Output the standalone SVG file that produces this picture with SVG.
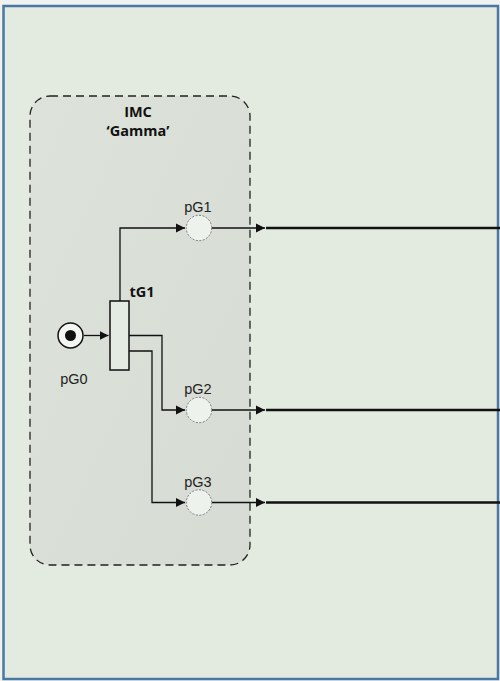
<svg xmlns="http://www.w3.org/2000/svg" width="500" height="681" viewBox="0 0 500 681">
<defs>
<marker id="ah" markerWidth="10" markerHeight="10" refX="9" refY="5" orient="auto" markerUnits="userSpaceOnUse">
<path d="M0,0.5 L9,5 L0,9.5 Z" fill="#111"/>
</marker>
<linearGradient id="boxg" x1="0" y1="0" x2="1" y2="1">
<stop offset="0" stop-color="#dde2da"/>
<stop offset="1" stop-color="#d6dbd4"/>
</linearGradient>
</defs>
<style>
.lbl{font-family:"Liberation Sans",Arial,sans-serif;font-size:14.5px;fill:#222;text-anchor:middle}
.bold{font-family:"Open Sans","Liberation Sans",sans-serif;font-size:14.5px;font-weight:bold;fill:#111;text-anchor:middle}
.place{fill:#eef2ec;stroke:#777;stroke-width:1;stroke-dasharray:2 1.5}
.arc{fill:none;stroke:#111;stroke-width:1.3}
.thick{fill:none;stroke:#111;stroke-width:2.6}
</style>
<rect x="0" y="0" width="500" height="681" fill="#f0f2ef"/>
<rect x="3.5" y="6" width="494.5" height="673" fill="#e3ebe0" stroke="#4a78a4" stroke-width="2.5"/>
<g id="imc">
<rect x="30" y="96" width="220" height="469" rx="20" ry="20" fill="url(#boxg)" stroke="#222" stroke-width="1.3" stroke-dasharray="8 5"/>
<text class="bold" x="138" y="117">IMC</text>
<text class="bold" x="138" y="136">‘Gamma’</text>
</g>
<g id="connectors">
<path class="arc" d="M84,335.5 H108.5" marker-end="url(#ah)"/>
<path class="arc" d="M120,301 V228 H185" marker-end="url(#ah)"/>
<path class="arc" d="M129,335.5 H162 V410 H185" marker-end="url(#ah)"/>
<path class="arc" d="M129,351 H152 V502.5 H185" marker-end="url(#ah)"/>
<path class="arc" d="M212,228 H265" marker-end="url(#ah)"/>
<path class="arc" d="M212,410 H265" marker-end="url(#ah)"/>
<path class="arc" d="M212,502.5 H265" marker-end="url(#ah)"/>
<path class="thick" d="M266,228 H500 M266,410 H500 M266,502.5 H500"/>
</g>
<g id="pG0">
<circle cx="70.5" cy="335.5" r="12.5" fill="#f4f6f3" stroke="#111" stroke-width="1.5"/>
<circle cx="70.5" cy="335.5" r="5.5" fill="#111"/>
<text class="lbl" x="74" y="384">pG0</text>
</g>
<g id="tG1">
<rect x="110" y="301" width="19" height="69" fill="#e4ebe2" stroke="#111" stroke-width="1.5"/>
<text class="bold" x="142" y="297">tG1</text>
</g>
<g id="pG1">
<circle class="place" cx="199" cy="228" r="12.7"/>
<text class="lbl" x="198" y="212">pG1</text>
</g>
<g id="pG2">
<circle class="place" cx="199" cy="410" r="12.7"/>
<text class="lbl" x="198" y="394">pG2</text>
</g>
<g id="pG3">
<circle class="place" cx="199" cy="502.5" r="12.7"/>
<text class="lbl" x="198" y="486.5">pG3</text>
</g>
</svg>
